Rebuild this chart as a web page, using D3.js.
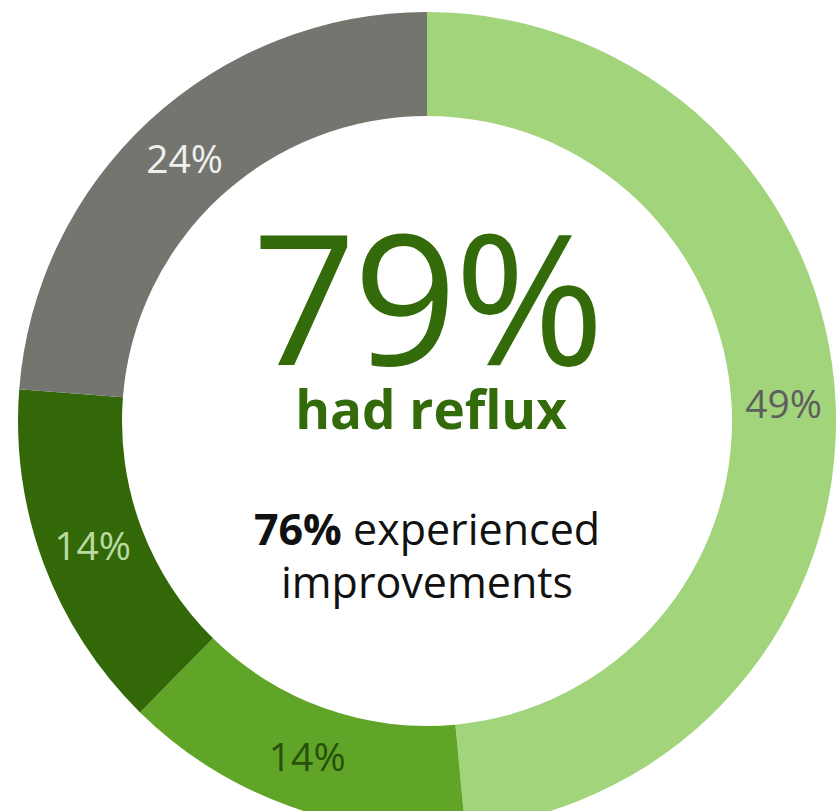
<!DOCTYPE html>
<html>
<head>
<meta charset="utf-8">
<script src="https://cdn.jsdelivr.net/npm/d3@7"></script>
<style>
  html, body { margin: 0; padding: 0; background: #ffffff; }
  svg { display: block; font-family: "Open Sans", sans-serif; }
</style>
</head>
<body>
<svg id="donut"></svg>
<script>
const width = 836, height = 811;
const cx = 427, cy = 421;
const outerR = 409, innerR = 305;

// slices, clockwise from 12 o'clock
const categories = ["A", "B", "C", "D"];
const values = [49, 14, 14, 24];
const labels = ["49%", "14%", "14%", "24%"];
const colors = ["#a2d47b", "#60a528", "#326808", "#73756e"];
const labelColors = ["#5e5e5e", "#28500a", "#b9dba0", "#f0f0ee"];

const svg = d3.select("#donut")
    .attr("width", width)
    .attr("height", height)
    .style("background", "#ffffff");

const g = svg.append("g")
    .attr("transform", `translate(${cx},${cy})`);

const pie = d3.pie()
    .sort(null)
    .value(d => d.value);

const arc = d3.arc()
    .innerRadius(innerR)
    .outerRadius(outerR);

const data = categories.map((c, i) => ({ key: c, value: values[i], label: labels[i], i: i }));
const arcs = pie(data);

g.selectAll("path.slice")
    .data(arcs)
    .join("path")
    .attr("class", "slice")
    .attr("fill", d => colors[d.data.i])
    .attr("d", arc);

g.selectAll("text.lbl")
    .data(arcs)
    .join("text")
    .attr("class", "lbl")
    .attr("transform", d => `translate(${arc.centroid(d)})`)
    .attr("text-anchor", "middle")
    .attr("dy", "0.35em")
    .style("font-size", "39px")
    .attr("fill", d => labelColors[d.data.i])
    .text(d => d.data.label);

// centre text
svg.append("text")
    .attr("x", cx)
    .attr("y", 365)
    .attr("text-anchor", "middle")
    .attr("fill", "#336a0a")
    .style("font-size", "182px")
    .style("letter-spacing", "-3px")
    .text("79%");

svg.append("text")
    .attr("x", cx + 4)
    .attr("y", 429)
    .attr("text-anchor", "middle")
    .attr("fill", "#336a0a")
    .style("font-size", "53px")
    .style("font-weight", "bold")
    .text("had reflux");

const line1 = svg.append("text")
    .attr("x", cx)
    .attr("y", 545)
    .attr("text-anchor", "middle")
    .attr("fill", "#111111")
    .style("font-size", "43px");
line1.append("tspan").style("font-weight", "bold").text("76%");
line1.append("tspan").text(" experienced");

svg.append("text")
    .attr("x", cx)
    .attr("y", 598)
    .attr("text-anchor", "middle")
    .attr("fill", "#111111")
    .style("font-size", "43px")
    .text("improvements");
</script>
</body>
</html>
